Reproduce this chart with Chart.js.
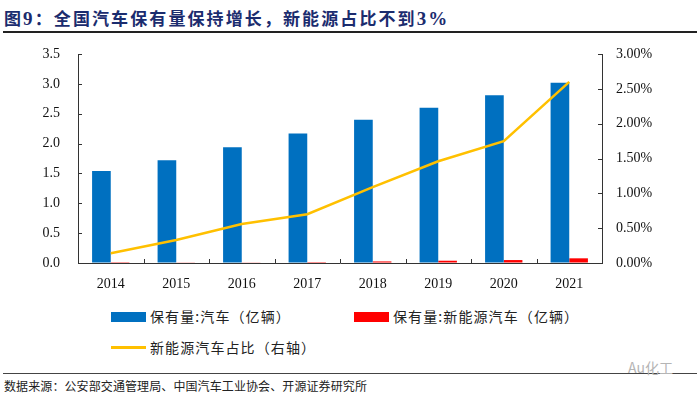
<!DOCTYPE html>
<html><head><meta charset="utf-8">
<script src="https://cdn.jsdelivr.net/npm/chart.js@4"></script>
<style>
html,body{margin:0;padding:0;background:#fff;width:700px;height:401px;overflow:hidden;position:relative;font-family:"Noto Sans CJK SC","Noto Sans",sans-serif;}
#title{position:absolute;left:4px;top:5px;font-size:17px;font-weight:bold;color:#1B2C6E;letter-spacing:2.1px;white-space:nowrap;}
#title .n{font-family:"Liberation Serif",serif;font-size:19px;}
#rule1{position:absolute;left:3px;right:3px;top:31px;height:1.5px;background:#222;}
#rule2{position:absolute;left:3px;right:3px;top:373px;height:1px;background:#444;}
#src{position:absolute;left:4px;top:377px;font-size:12px;color:#222;white-space:nowrap;letter-spacing:0.1px;}
#wm{position:absolute;left:628px;top:357px;font-size:14px;color:#b5b5b5;background:transparent;}
#wrap{position:absolute;left:0;top:0;width:700px;height:300px;}
.lg{position:absolute;font-size:14px;color:#222;white-space:nowrap;letter-spacing:1.1px;}
.sw{position:absolute;}
</style></head><body>
<div id="title">图<span class="n">9</span>：全国汽车保有量保持增长，新能源占比不到<span class="n">3%</span></div>
<div id="rule1"></div>
<div id="wrap"><canvas id="c" width="700" height="300"></canvas></div>
<div class="sw" style="left:111px;top:312px;width:35px;height:10px;background:#0070C0"></div>
<div class="lg" style="left:150px;top:306px">保有量:汽车（亿辆）</div>
<div class="sw" style="left:354px;top:312px;width:35px;height:10px;background:#FF0000"></div>
<div class="lg" style="left:393px;top:306px">保有量:新能源汽车（亿辆）</div>
<div class="sw" style="left:111px;top:346px;width:35px;height:2.5px;background:#FFC000"></div>
<div class="lg" style="left:150px;top:337px">新能源汽车占比（右轴）</div>
<div id="rule2"></div>
<div id="wm">Au化工</div>
<div id="src">数据来源：公安部交通管理局、中国汽车工业协会、开源证券研究所</div>
<script>
const years = ['2014','2015','2016','2017','2018','2019','2020','2021'];
const carStock = [1.54,1.72,1.94,2.17,2.40,2.60,2.81,3.02];
const nevStock = [0.0022,0.0058,0.0109,0.0153,0.0261,0.0381,0.0492,0.0784];
const nevShare = [0.14,0.33,0.56,0.70,1.09,1.46,1.75,2.60];
const leftTicks = [0,0.5,1,1.5,2,2.5,3,3.5];
const rightTicks = [0,0.5,1,1.5,2,2.5,3];

const inwardTicks = {
  id:'inwardTicks',
  afterDraw(chart){
    const ctx=chart.ctx, a=chart.chartArea;
    ctx.save();ctx.strokeStyle='#333';ctx.lineWidth=1;
    const y=chart.scales.y, y1=chart.scales.y1, x=chart.scales.x;
    ctx.beginPath();
    y.ticks.forEach(t=>{const p=Math.round(y.getPixelForValue(t.value))+0.5;ctx.moveTo(a.left,p);ctx.lineTo(a.left+4,p);});
    y1.ticks.forEach(t=>{const p=Math.round(y1.getPixelForValue(t.value))+0.5;ctx.moveTo(a.right,p);ctx.lineTo(a.right-4,p);});
    for(let i=1;i<years.length;i++){const p=Math.round(x.getPixelForValue(i-0.5))+0.5;ctx.moveTo(p,a.bottom);ctx.lineTo(p,a.bottom-4);}
    ctx.stroke();ctx.restore();
  }
};

const serif = {family:'"Liberation Serif","Times New Roman",serif', size:14};
new Chart(document.getElementById('c'),{
  data:{labels:years,datasets:[
    {type:'line',label:'新能源汽车占比（右轴）',data:nevShare,yAxisID:'y1',borderColor:'#FFC000',backgroundColor:'#FFC000',borderWidth:2.5,pointRadius:0,tension:0,order:0},
    {type:'bar',label:'保有量:汽车（亿辆）',data:carStock,yAxisID:'y',backgroundColor:'#0070C0',categoryPercentage:0.57,barPercentage:1,order:1},
    {type:'bar',label:'保有量:新能源汽车（亿辆）',data:nevStock,yAxisID:'y',backgroundColor:'#FF0000',categoryPercentage:0.57,barPercentage:1,order:1}
  ]},
  options:{
    responsive:false,animation:false,
    layout:{padding:{top:54,left:0,right:0,bottom:0}},
    plugins:{legend:{display:false},tooltip:{enabled:false}},
    scales:{
      x:{grid:{display:true,drawOnChartArea:false,drawTicks:false},border:{color:'#333',width:1},
         ticks:{font:serif,color:'#111',padding:13,maxRotation:0},
         afterFit(s){s.height=37;}},
      y:{position:'left',min:0,max:3.5,afterBuildTicks(s){s.ticks=leftTicks.map(v=>({value:v}));},
         grid:{display:true,drawOnChartArea:false,drawTicks:false},border:{color:'#333',width:1},
         ticks:{font:serif,color:'#111',padding:18,callback:v=>v.toFixed(1)},
         afterFit(s){s.width=78;}},
      y1:{position:'right',min:0,max:3,afterBuildTicks(s){s.ticks=rightTicks.map(v=>({value:v}));},
         grid:{display:true,drawOnChartArea:false,drawTicks:false},border:{color:'#333',width:1},
         ticks:{font:serif,color:'#111',padding:14,callback:v=>v.toFixed(2)+'%'},
         afterFit(s){s.width=98;}}
    }
  },
  plugins:[inwardTicks]
});
</script>
</body></html>
